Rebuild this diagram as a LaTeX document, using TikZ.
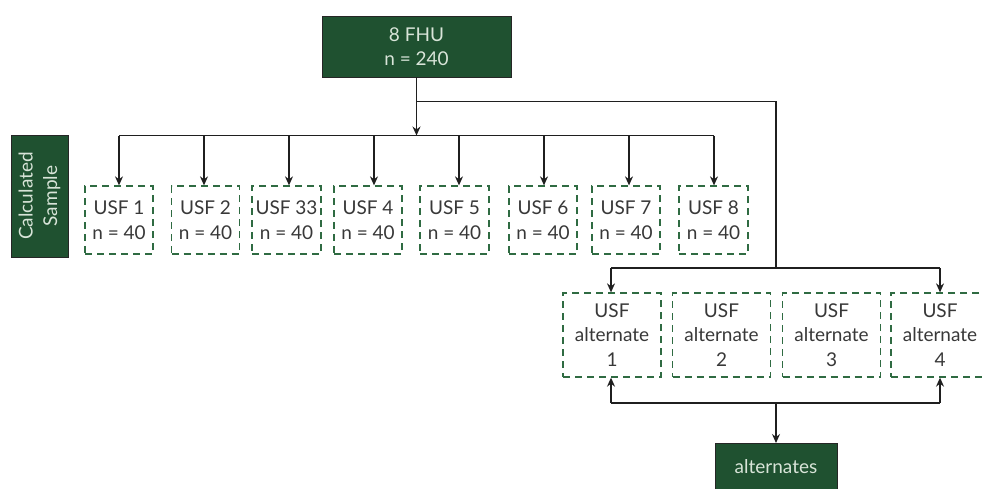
\documentclass[tikz,border=0pt]{standalone}
\usepackage{fontspec}
\setmainfont{Lato}
\usetikzlibrary{arrows.meta}
\begin{document}
\begin{tikzpicture}[x=1pt,y=-1pt,
  darkbox/.style={draw=black!85,line width=0.9pt,fill=fhugreen,text=lighttext,inner sep=0pt,align=center,font=\fontsize{19}{24.5}\selectfont},
  usfbox/.style={draw=dashgreen,line width=1.3pt,dash pattern=on 7pt off 5pt,inner sep=0pt,align=center,text=darktext,font=\fontsize{19}{24.5}\selectfont,minimum width=68pt,minimum height=68pt},
  altbox/.style={usfbox,minimum width=98pt,minimum height=84pt},
  conn/.style={draw=black!88,line width=1.2pt},
  arr/.style={conn,-{Stealth[length=9pt,width=8pt]}}]
\definecolor{fhugreen}{HTML}{1F5130}
\definecolor{dashgreen}{HTML}{2F6B42}
\definecolor{lighttext}{HTML}{D8E4D8}
\definecolor{darktext}{HTML}{383838}
\useasboundingbox (0,0) rectangle (984,488);
\clip (0,0) rectangle (984,488);
% top
\node[darkbox,minimum width=189pt,minimum height=61pt] (fhu) at (416.5,46.5) {8 FHU\\n = 240};
\node[darkbox,minimum width=122pt,minimum height=57pt,rotate=90] (calc) at (39.5,196) {Calculated\\Sample};
% usf boxes
\node[usfbox] (u1) at (119,220) {USF 1\\n = 40};
\node[usfbox] (u2) at (205.5,220) {USF 2\\n = 40};
\node[usfbox,minimum width=69pt] (u3) at (286.5,220) {USF 33\\n = 40};
\node[usfbox] (u4) at (368,220) {USF 4\\n = 40};
\node[usfbox,minimum width=69pt] (u5) at (454.5,220) {USF 5\\n = 40};
\node[usfbox] (u6) at (543,220) {USF 6\\n = 40};
\node[usfbox] (u7) at (626,220) {USF 7\\n = 40};
\node[usfbox,minimum width=69pt] (u8) at (713.5,220) {USF 8\\n = 40};
% alternates
\node[altbox] (a1) at (612,335) {USF\\alternate\\1};
\node[altbox] (a2) at (721.5,335) {USF\\alternate\\2};
\node[altbox] (a3) at (831.5,335) {USF\\alternate\\3};
\node[altbox] (a4) at (940,335) {USF\\alternate\\4};
\node[darkbox,minimum width=122pt,minimum height=50pt,anchor=north] (alts) at (776,443) {\raisebox{4pt}{alternates}};
% coordinates
\coordinate (j1) at (416.5,101.5);
\coordinate (jr) at (776,101.5);
\coordinate (bus) at (416.5,135.5);
\coordinate (bl) at (119,135.5);
\coordinate (br) at (714,135.5);
\coordinate (ajt) at (776,268);
\coordinate (ajl) at (611,268);
\coordinate (ajr) at (940,268);
\coordinate (bjt) at (776,403);
\coordinate (bjl) at (611,403);
\coordinate (bjr) at (940,403);
% connectors
\draw[conn] (fhu.south) -- (j1) -- (jr) -- (ajt);
\draw[arr] (j1) -- (bus);
\draw[conn] (bl) -- (br);
\foreach \n/\x in {u1/119,u2/204,u3/289,u4/374,u5/459,u6/544,u7/629,u8/714}{
  \coordinate (b\n) at (\x,135.5);
  \draw[arr] (b\n) -- (b\n |- \n.north);
}
\draw[conn] (ajl) -- (ajr);
\draw[arr] (ajl) -- (ajl |- a1.north);
\draw[arr] (ajr) -- (ajr |- a4.north);
\draw[conn] (bjl) -- (bjr);
\draw[arr] (bjl) -- (bjl |- a1.south);
\draw[arr] (bjr) -- (bjr |- a4.south);
\draw[arr] (bjt) -- (alts.north);
\end{tikzpicture}
\end{document}
